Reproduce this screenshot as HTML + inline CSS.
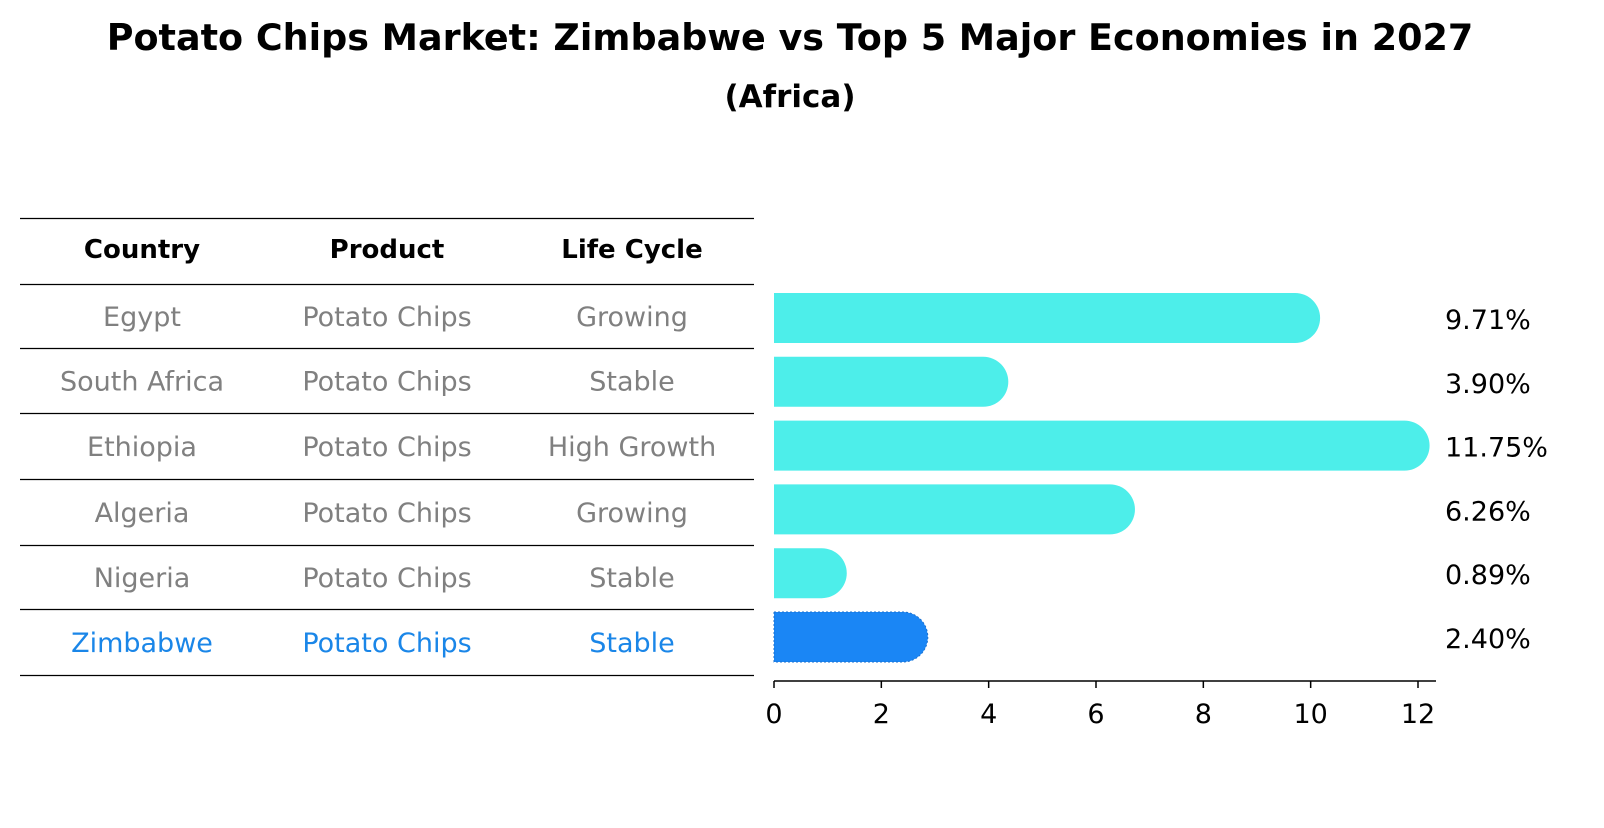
<!DOCTYPE html>
<html><head><meta charset="utf-8"><style>
body{margin:0;background:#fff;font-family:"Liberation Sans","DejaVu Sans",sans-serif;}
</style></head><body>
<svg width="1604" height="823" xmlns="http://www.w3.org/2000/svg" font-family="DejaVu Sans, Liberation Sans, sans-serif">
<text x="790" y="50" text-anchor="middle" font-size="36.5" font-weight="bold">Potato Chips Market: Zimbabwe vs Top 5 Major Economies in 2027</text>
<text x="790" y="107" text-anchor="middle" font-size="31" font-weight="bold">(Africa)</text>
<g id="table"></g>
<g id="bars"></g>
</svg>
<script>
const countries=["Egypt","South Africa","Ethiopia","Algeria","Nigeria","Zimbabwe"];
const products=["Potato Chips","Potato Chips","Potato Chips","Potato Chips","Potato Chips","Potato Chips"];
const lifecycles=["Growing","Stable","High Growth","Growing","Stable","Stable"];
const values=[9.71,3.90,11.75,6.26,0.89,2.40];
const ticks=[0,2,4,6,8,10,12];
const NS="http://www.w3.org/2000/svg";
function mk(t,a,p){const e=document.createElementNS(NS,t);for(const k in a)e.setAttribute(k,a[k]);p.appendChild(e);return e;}
const tb=document.getElementById('table');
const lines=[218,284,348,413,479,545,609,675];
lines.forEach(y=>{const l=mk('line',{x1:20,x2:754,y1:y+0.5,y2:y+0.5,stroke:'#000','stroke-width':1.2},tb);

});
const cx=[142,387,632];
["Country","Product","Life Cycle"].forEach((h,i)=>{const t=mk('text',{x:cx[i],y:258,'text-anchor':'middle','font-size':26,'font-weight':'bold'},tb);t.textContent=h;

});
countries.forEach((c,r)=>{const y=(lines[r+1]+lines[r+2])/2+10;const col=r==countries.length-1?'#1a86e8':'#808080';
[c,products[r],lifecycles[r]].forEach((v,i)=>{const t=mk('text',{x:cx[i],y:y,'text-anchor':'middle','font-size':27,fill:col},tb);t.textContent=v;

});});
const g=document.getElementById('bars');
const x0=774,sc=(1418-774)/12;const X=v=>x0+v*sc;
const rowY=r=>318+r*63.8;const bh=50;
values.forEach((v,r)=>{const y=rowY(r);const col=r==values.length-1?'#1a86f5':'#4deeea';
const w=X(v)-x0,rr=bh/2;
const p=mk('path',{d:`M${x0},${y-rr} H${x0+w} A${rr},${rr} 0 0 1 ${x0+w},${y+rr} H${x0} Z`,fill:col},g);
if(r==values.length-1){p.setAttribute('stroke','#1a70d0');p.setAttribute('stroke-dasharray','2,2');}


const t=mk('text',{x:1445,y:y+11,'font-size':27},g);t.textContent=v.toFixed(2)+'%';

});
const ax=mk('line',{x1:774,x2:1436,y1:681,y2:681,stroke:'#000','stroke-width':1.5},g);


ticks.forEach(v=>{const l=mk('line',{x1:X(v),x2:X(v),y1:681,y2:688,stroke:'#000','stroke-width':1.5},g);


const t=mk('text',{x:X(v),y:723,'text-anchor':'middle','font-size':27},g);t.textContent=v;

});
</script>
</body></html>
